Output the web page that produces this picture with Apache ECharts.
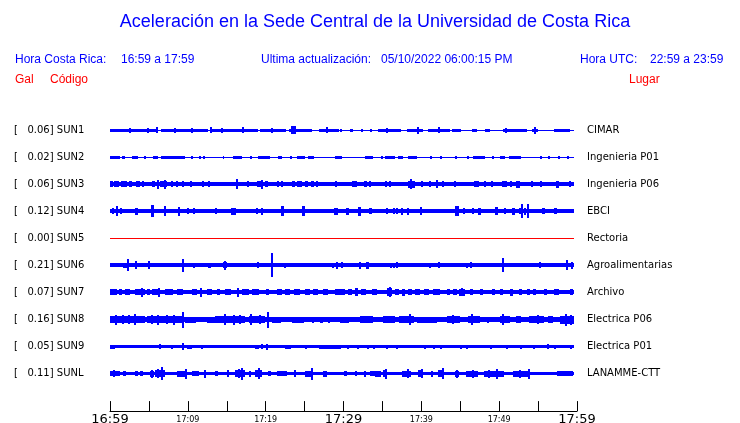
<!DOCTYPE html>
<html><head><meta charset="utf-8">
<script src="https://cdn.jsdelivr.net/npm/echarts@6/dist/echarts.min.js"></script>
<style>html,body{margin:0;padding:0;background:#fff}#c{width:740px;height:423px}</style>
</head><body><div id="c"></div>
<script>
const titleText = 'Aceleración en la Sede Central de la Universidad de Costa Rica';
const infoTexts = ['Hora Costa Rica:', '16:59 a 17:59', 'Ultima actualización:', '05/10/2022 06:00:15 PM', 'Hora UTC:', '22:59 a 23:59'];
const headTexts = ['Gal', 'Código', 'Lugar'];
const stations = ['SUN1','SUN2','SUN3','SUN4','SUN5','SUN6','SUN7','SUN8','SUN9','SUNL'];
const peaks = ['0.06','0.02','0.06','0.12','0.00','0.21','0.07','0.16','0.05','0.11'];
const places = ['CIMAR','Ingenieria P01','Ingenieria P06','EBCI','Rectoria','Agroalimentarias','Archivo','Electrica P06','Electrica P01','LANAMME-CTT'];
const tickLabels = ['16:59','','17:09','','17:19','','17:29','','17:39','','17:49','','17:59'];
const traceEnd = 59.65;
const baseAmp = [0.5, 0.5, 1.9, 2.2, 0.5, 1.8, 2.2, 2.7, 1.5, 1.7];
// bursts: [start minute, end minute, half amplitude]
const sun1 = [[0,6.1,1.5],[2.4,2.6,2.5],[4.8,5,2.5],[5.9,6.1,3],[6.5,12.6,1.5],[8.2,8.4,2.5],[10.4,10.6,2.5],[12.8,19,1.5],[12.9,13.1,3],[14.2,14.4,2.5],[16.9,17.1,3],[19.3,22.6,1.5],[20.7,20.9,2.5],[23,26,1.5],[23.3,23.9,4],[26.8,29.4,1.5],[27.8,28.1,3],[29.6,29.8,1.5],[30.8,31.2,1.5],[32.2,32.4,1.5],[33.4,33.6,1.5],[34.4,37.3,1.5],[35.5,35.7,2.5],[38.2,40.2,1.5],[39.4,39.6,3.5],[40.9,43.7,1.5],[42.1,42.3,3],[44,45.2,1.5],[46.5,47.2,1.5],[48.2,48.8,1.5],[50.5,53.6,1.5],[50.8,51,2.5],[54.2,55,1.5],[54.5,54.7,3.5],[57,59.1,1.5]];
const sun2 = [[0,1.3,1.5],[1.5,1.9,1.5],[2.8,3.6,1.5],[4.4,4.6,1.5],[5.5,6.2,1.5],[6.5,9.6,1.5],[10.4,10.6,1.5],[11.4,11.6,1.5],[12,12.2,1.5],[14.5,14.6,1.5],[15.8,17,1.5],[18,18.2,1.5],[19,20.6,1.5],[21.6,22.1,1.5],[23.1,23.3,1.5],[24,25,1.5],[25.4,26.2,1.5],[28.9,29.8,1.5],[32.8,33.8,1.5],[34.8,35,1.5],[35.3,36.6,1.5],[37,37.7,1.5],[38.3,39.5,1.5],[41.1,41.3,1.5],[42.4,42.6,1.5],[44.3,44.5,1.5],[45.9,46.1,1.5],[46.7,48.2,1.5],[49.1,49.3,1.5],[50.1,50.8,1.5],[51.2,52.7,1.5],[55.3,55.5,1.5],[56.3,56.5,1.5],[57.6,57.8,1.5],[58.7,58.9,1.5]];
const sun3 = [[0,0.4,3],[0.5,1.2,3],[1.4,2.2,3],[2.5,2.9,3],[3.3,3.8,3],[4.1,4.3,3],[5.4,5.8,3],[6,6.2,4.5],[6.4,7.3,3],[6.9,7.1,4.5],[7.9,8.1,3],[8.5,8.7,3],[9.3,9.6,3],[10.3,10.5,3],[11.8,12,3],[12.6,12.8,3],[16.2,16.4,5],[17.6,17.8,3],[18.9,19.4,3],[19.4,19.6,4.5],[19.9,20.3,3],[21.4,21.6,3],[22,22.2,3],[23.4,23.8,3],[24,24.6,3],[25,25.4,3],[25.8,26.2,3],[26.5,26.7,3],[28.9,29.1,3],[31.1,31.7,3],[32.6,33,3],[33.3,33.5,3],[35.3,35.5,3],[35.9,36.1,3],[38.3,39.2,3.5],[38.6,38.8,4.8],[39.9,40.1,3],[41,41.2,3],[41.9,42.1,4],[42.7,42.9,3],[44.2,44.4,3],[46.8,47.4,3],[48,48.2,3],[49,49.2,3],[50.3,50.9,3],[51.4,51.7,3],[52.2,52.7,3.5],[54.1,54.3,3],[55.2,55.4,3],[57.3,57.7,3.5],[59,59.2,3]];
const sun4 = [[0.3,0.6,3],[0.8,1.1,5],[1.3,1.6,3],[3.2,3.6,3.5],[5.3,5.7,6],[7,7.2,5],[8.7,8.9,4.5],[9.9,10.1,3],[10.7,10.9,3],[13.5,13.7,3],[15.6,16.2,3.5],[18.8,19,3],[19.4,19.6,3.5],[22,22.4,5],[24.7,25.1,5],[28.8,29.3,3.5],[30.3,30.7,3.5],[31.8,32.2,4.5],[33.3,33.7,3],[35.5,35.7,3],[36.3,36.5,3],[36.7,36.9,3],[37.4,37.7,3.5],[38.1,38.4,3.5],[39.8,40,4],[44.3,44.8,5],[45.3,45.5,3],[46.5,46.7,3],[47.3,47.7,3.5],[49.5,49.9,4],[50.6,50.8,3],[51.7,52.1,3.5],[52.5,52.7,3],[52.8,53,7],[53.2,53.4,3.5],[53.6,53.8,7],[55.5,55.9,3],[57.1,57.5,3]];
const sun5 = [];
const sun6 = [[1.7,2.2,2.5],[2.2,2.4,6],[3.2,3.5,4],[4.9,5.1,4],[9.2,9.4,6.5],[10.6,10.8,2.5],[12.6,13,2.7],[14.5,15,3],[14.7,14.9,4.5],[18.9,19.2,3],[20.7,20.9,12],[22.4,22.6,2.5],[28.5,28.7,2.5],[29.1,29.3,3.5],[29.7,29.9,3],[32,32.2,3.5],[32.9,33.3,3.5],[36,36.2,2.5],[36.4,36.6,2.5],[36.8,37,3],[41,41.2,2.5],[42.1,42.4,3],[45.8,46,2.5],[46.3,46.5,3],[50.3,50.5,7],[55.1,55.3,3],[58.6,58.8,5],[59.2,59.4,3.5]];
const sun7 = [[0,0.9,3],[1.1,1.5,3],[1.9,2.6,3],[3.2,4.5,2.8],[4.0,4.2,4.5],[4.7,5.1,3],[5.4,6.4,3],[6.2,6.4,4.5],[7.1,8.1,2.8],[8.6,9.4,2.8],[10.5,11.1,2.8],[11.5,11.8,4.5],[12.4,13.1,2.8],[13.7,14.1,2.8],[14.8,15.6,2.8],[16.3,16.5,4.5],[16.9,17.8,2.8],[18.2,19.1,2.8],[20,20.4,2.8],[21.4,22.1,2.8],[22.5,23.1,3.2],[23.6,24.4,2.8],[25.1,25.7,2.8],[26.1,26.8,2.8],[27.4,28.1,2.8],[28.9,30.2,2.8],[30.6,31.1,2.8],[31.5,31.9,4],[32.3,33,2.8],[33.6,34.3,2.8],[35.6,36.2,4],[35.8,36,5],[36.6,37.1,2.8],[37.5,37.9,3.5],[38.3,38.8,2.8],[39.2,39.8,2.8],[40.3,40.9,2.8],[41.5,42.4,2.8],[43.3,43.7,2.8],[44.1,44.6,2.8],[44.8,45.6,3.3],[45.1,45.3,4],[46.3,46.7,2.8],[47.6,48,2.8],[49.1,49.5,2.8],[50.1,50.5,2.8],[51.4,51.8,3.5],[52.5,52.9,2.8],[53.6,54,2.8],[54.4,54.8,2.8],[55.7,56.1,2.8],[57,57.6,2.8],[59.1,59.5,2.8]];
const sun8 = [[0,4.5,3.3],[3.1,3.3,5.5],[0.6,0.8,4.8],[1.5,1.7,4.5],[2.3,2.5,4.3],[4.7,9.2,3.3],[5.3,5.5,4.3],[6.1,6.3,5],[7.2,7.4,4.5],[8.1,8.3,5],[9.2,9.4,8],[9.6,11,3.1],[12.4,13.5,3.1],[13.5,17.4,3.6],[14.7,14.9,5.5],[15.8,16,5],[16.6,16.8,4.5],[17.8,19.9,3.5],[18,18.2,5.5],[19.2,19.4,4.5],[20.2,20.4,8],[20.8,22,3.1],[23.4,25,3.1],[26,26.3,3.1],[27,27.4,3.1],[28,28.3,3.1],[29.6,30.8,3.1],[32.1,33.8,3.4],[35.1,36.6,3.4],[37.1,39,3.6],[38.4,38.6,5.5],[39.4,42,3.1],[43.3,45,3.6],[44,44.2,4.5],[46,47.6,3.6],[46.4,46.6,5.5],[48.5,48.8,3.1],[50.1,51.4,3.6],[50.3,50.5,5.5],[52.2,52.9,3.4],[53.8,55.7,3.6],[54.8,55,4.5],[56.3,56.9,3.4],[57.8,59.6,4],[58.4,58.6,6],[59.1,59.3,5]];
const sun9 = [[0,0.6,2],[6.3,6.5,2.5],[7.8,8,2],[9.2,9.4,3.5],[9.9,10.6,2],[11.7,11.9,2],[18.6,19.1,2],[19.4,19.6,2.5],[20,20.2,3],[22.5,23.3,2],[25.1,25.3,2],[26.8,29.6,2],[30.4,30.6,2],[31.7,31.9,2],[33,33.2,2],[33.8,34,2],[35.5,35.7,2],[36.8,37,2],[40.3,40.5,2],[41.5,41.7,2],[42.4,42.6,2],[45,45.2,2],[45.8,46,2],[48.8,49,2],[50.9,51.1,2],[52.7,52.9,2],[54.4,54.6,2],[56.1,56.3,2.5],[57,57.2,2],[59.1,59.3,2]];
const sunL = [[0,1.3,2.6],[0.4,0.6,3.5],[1.7,2.1,2.6],[3.2,3.6,2.6],[3.9,4.3,2.3],[5.1,5.6,3.2],[5.3,5.5,4],[5.8,7.1,3.4],[6.5,6.7,6.5],[6.1,6.3,4.5],[8.6,9.9,3.1],[9.6,9.8,5],[10.5,11.4,2.6],[12.1,12.3,4],[13.5,13.9,2.6],[15,15.2,3.5],[16.1,17.4,3.4],[16.8,17,6],[16.4,16.6,4.5],[17.8,18,3],[18.6,19.5,3.4],[19,19.2,5.5],[20.3,20.7,2.6],[21.4,22.7,2.6],[23.6,23.8,3.5],[25.1,26,3.1],[25.8,26,6],[27.4,27.9,3],[30,30.4,2.6],[31.5,31.7,2.5],[32.6,32.8,3],[33.4,34,2.6],[34.1,34.9,3.1],[35.1,35.6,3.5],[35.3,35.5,5],[37.5,38.6,3],[38.2,38.4,4.5],[39.6,40.3,3.4],[39.9,40.1,4.5],[41.3,41.5,3],[42.2,42.8,3.4],[42.6,42.8,5.5],[44.3,44.8,3.1],[44.5,44.7,4],[45.8,47.3,3.1],[46.5,46.7,4],[48,50.6,3.1],[49.6,49.8,5],[48.6,48.8,4],[51.8,54,3.1],[53.7,53.9,5],[52.6,52.8,4],[57.4,59.5,2.4]];
const bursts = [sun1, sun2, sun3, sun4, sun5, sun6, sun7, sun8, sun9, sunL];

const chart = echarts.init(document.getElementById('c'), null, {renderer: 'canvas'});
const BLUE = '#0000ff', RED = '#ff0000';
const leftLabels = stations.map((s, i) => '[   ' + peaks[i] + '] ' + s);

function makeRender(color) {
  return function (params, api) {
    const t0 = api.value(0), t1 = api.value(1), amp = api.value(2), row = api.value(3);
    const p0 = api.coord([t0, row]);
    const p1 = api.coord([t1, row]);
    const s = api.size([0, 1])[1] / 27;
    const h = Math.max(1, Math.round(2 * amp * s));
    const w = Math.max(1, Math.round(p1[0] - p0[0]));
    return {
      type: 'rect',
      shape: { x: Math.round(p0[0]), y: Math.round(p0[1] - h / 2), width: w, height: h },
      style: { fill: color }
    };
  };
}

const series = stations.map((s, i) => {
  const color = parseFloat(peaks[i]) === 0 ? RED : BLUE;
  const data = [[0, traceEnd, baseAmp[i], i]].concat(bursts[i].map(b => [b[0], b[1], b[2], i]));
  return {
    type: 'custom', name: s, xAxisIndex: 0, yAxisIndex: 0,
    renderItem: makeRender(color),
    encode: { x: [0, 1], y: 3 },
    data: data, silent: true
  };
});

const hdrFont = '"Liberation Sans", Arial, sans-serif';
const infoX = [15, 121, 261, 381, 580, 650];
const headX = [15, 50, 629];
const graphics = [{
  type: 'text', x: 375, y: 22,
  style: { text: titleText, font: '18px ' + hdrFont, fill: BLUE, textAlign: 'center', textVerticalAlign: 'middle' }
}].concat(infoTexts.map((t, i) => ({
  type: 'text', x: infoX[i], y: 60,
  style: { text: t, font: '12px ' + hdrFont, fill: BLUE, textVerticalAlign: 'middle' }
}))).concat(headTexts.map((t, i) => ({
  type: 'text', x: headX[i], y: 80,
  style: { text: t, font: '12px ' + hdrFont, fill: RED, textVerticalAlign: 'middle' }
})));

chart.setOption({
  animation: false,
  backgroundColor: '#fff',
  grid: { left: 110, right: 163, top: 116.8, bottom: 35.9, containLabel: false, outerBoundsMode: 'none' },
  graphic: graphics,
  xAxis: {
    type: 'value', min: 0, max: 60, interval: 5, offset: 24,
    axisLine: { show: true, lineStyle: { color: '#000', width: 1 } },
    axisTick: { show: true, inside: true, length: 10, lineStyle: { color: '#000', width: 1 } },
    splitLine: { show: false },
    axisLabel: {
      margin: 1,
      formatter: function (v) {
        const idx = Math.round(v / 5);
        const t = tickLabels[idx] || '';
        if (!t) return '';
        return (idx % 6 === 0) ? '{big|' + t + '}' : '{small|' + t + '}';
      },
      rich: {
        big: { fontSize: 13, fontFamily: 'DejaVu Sans', color: '#000', lineHeight: 15 },
        small: { fontSize: 8, fontFamily: 'DejaVu Sans', color: '#000', lineHeight: 15 }
      }
    }
  },
  yAxis: [{
    type: 'category', data: leftLabels, inverse: true, position: 'left',
    axisLine: { show: false }, axisTick: { show: false }, splitLine: { show: false },
    axisLabel: { align: 'left', margin: 96, fontSize: 10, fontFamily: 'DejaVu Sans', color: '#000' }
  }, {
    type: 'category', data: places, inverse: true, position: 'right',
    axisLine: { show: false }, axisTick: { show: false }, splitLine: { show: false },
    axisLabel: { align: 'left', margin: 10, fontSize: 10, fontFamily: 'DejaVu Sans', color: '#000' }
  }],
  series: series
});
</script>
</body></html>
